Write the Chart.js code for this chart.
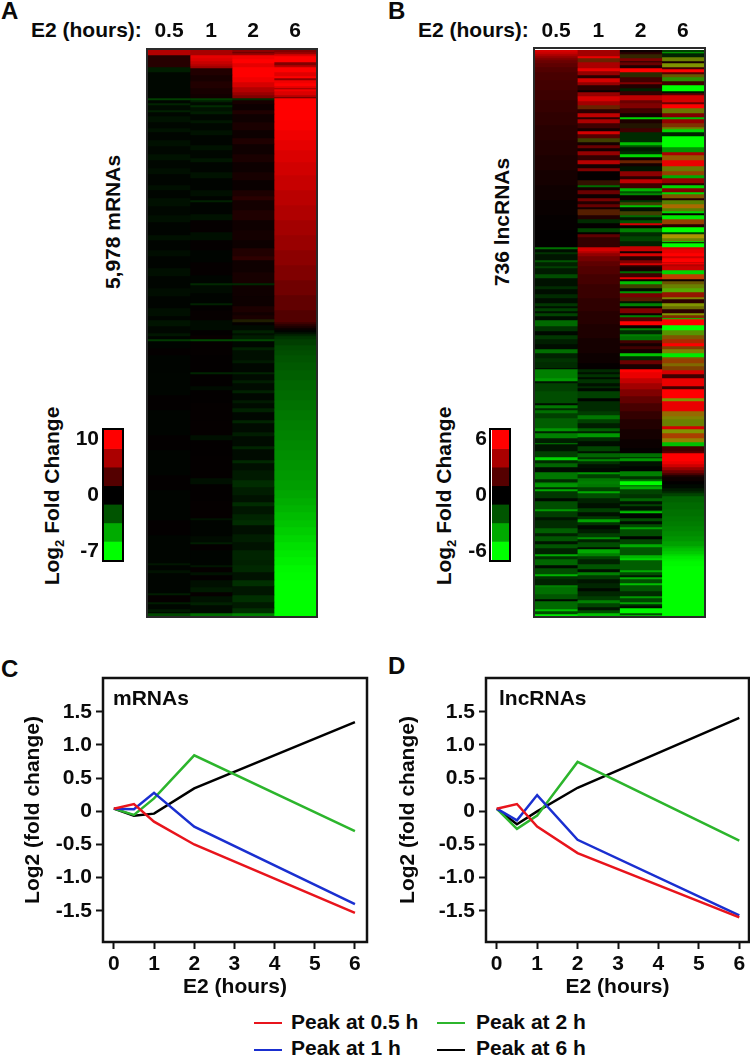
<!DOCTYPE html>
<html>
<head>
<meta charset="utf-8">
<script src="https://cdn.jsdelivr.net/npm/chart.js@4"></script>
<style>
html,body{margin:0;padding:0;background:#fff;width:750px;height:1056px;overflow:hidden}
body{position:relative;font-family:"Liberation Sans",Arial,sans-serif;font-weight:bold;color:#0a0a0a}
canvas{position:absolute;display:block}
#heatA,#heatB{filter:blur(0.45px)}
.t{position:absolute;white-space:nowrap;font-size:21px;line-height:24px}
.v{position:absolute;white-space:nowrap;font-size:21px;line-height:24px;transform:translate(-50%,-50%) rotate(-90deg)}
.p{position:absolute;font-size:24px;line-height:24px}
.f{position:absolute;box-sizing:border-box;border:2px solid #2a2a2a;pointer-events:none}
.k{position:absolute;height:2px;width:28px}
sub{font-size:13px;line-height:0}
</style>
</head>
<body>
<div class="p" style="left:1px;top:-1px">A</div>
<div class="p" style="left:388px;top:-1px">B</div>
<div class="p" style="left:1px;top:657px">C</div>
<div class="p" style="left:388px;top:654px">D</div>
<div class="t" style="left:31px;top:18px">E2 (hours):</div>
<div class="t" style="left:418px;top:18px">E2 (hours):</div>
<div class="v" style="left:113px;top:222px">5,978 mRNAs</div>
<div class="v" style="left:502px;top:222px">736 lncRNAs</div>
<div class="v" style="left:52px;top:496px">Log<sub>2</sub> Fold Change</div>
<div class="v" style="left:444px;top:496px">Log<sub>2</sub> Fold Change</div>

<canvas id="heatA" width="168" height="596" style="left:148px;top:20px;width:168px;height:596px"></canvas>
<canvas id="heatB" width="169" height="597" style="left:535px;top:20px;width:169px;height:597px"></canvas>
<div class="f" style="left:146px;top:48px;width:172px;height:570px"></div>
<div class="f" style="left:533px;top:47px;width:173px;height:571px"></div>
<canvas id="keyA" width="62" height="170" style="left:60px;top:410px;width:62px;height:170px"></canvas>
<canvas id="keyB" width="62" height="170" style="left:448px;top:410px;width:62px;height:170px"></canvas>
<div class="f" style="left:102px;top:428px;width:22px;height:134px;border-color:#000"></div>
<div class="f" style="left:489px;top:428px;width:22px;height:134px;border-color:#000"></div>

<canvas id="lineC" width="375" height="356" style="left:0;top:650px;width:375px;height:356px"></canvas>
<canvas id="lineD" width="375" height="356" style="left:375px;top:650px;width:375px;height:356px"></canvas>
<div class="t" style="left:113px;top:686px">mRNAs</div>
<div class="t" style="left:499px;top:686px">lncRNAs</div>

<div class="k" style="left:254px;top:1022px;background:#e8141c"></div>
<div class="t" style="left:291px;top:1010px">Peak at 0.5 h</div>
<div class="k" style="left:437px;top:1022px;background:#2cb52c"></div>
<div class="t" style="left:476px;top:1010px">Peak at 2 h</div>
<div class="k" style="left:254px;top:1049px;background:#1a2fd0"></div>
<div class="t" style="left:291px;top:1036px">Peak at 1 h</div>
<div class="k" style="left:437px;top:1049px;background:#000"></div>
<div class="t" style="left:476px;top:1036px">Peak at 6 h</div>

<script>
/* ---------- data: heat map columns as [first row of the run, log2 change, optional opposing change in a mixed bin] ---------- */
const heatLabels = ['0.5','1','2','6'];
const rowsA = 566, rowsB = 567;
const keyLabelsA = ['10','','','0','','','-7'];
const keyLabelsB = ['6','','','0','','','-6'];
const keyValuesA = [10,6.7,3.3,0,-2.3,-4.7,-7];
const keyValuesB = [6,4,2,0,-2,-4,-6];

const mrna05 = [[0,7],[5,1.5],[17,-.8],[22,-.2],[48,-1.7],[50,-.2],[53,-1],[55,-.3],[60,-.9],[62,-.2],[66,-.5],[72,-.2],[78,-.5],[82,-.15],[90,-.45],[96,-.2],[104,-.5],[110,-.2],[118,-.4],[124,-.15],[135,-.4],[140,-.15],[148,-.45],[156,-.2],[165,-.4],[172,-.1],[185,-.45],[190,-.1],[200,-.35],[206,-.1],[218,-.4],[226,-.15],[238,-.35],[246,-.1],[258,-.4],[266,-.15],[270,-.55],[276,-.2],[283,-.6],[286,-.15],[289,-1.6],[291,-.1],[298,.15],[305,-.1],[322,-.15],[345,.1],[360,-.12],[385,.1],[400,-.1],[425,.12],[440,-.1],[470,.1],[485,-.15],[513,-.6],[515,-.1],[520,-.5],[523,-.15],[543,-.8],[545,.2],[552,-.8],[554,-.2],[559,-.7],[562,-.2],[563,-2]];
const mrna1 = [[0,6.5],[5,9],[8,8.6],[11,7.8],[14,7],[16,6.2],[18,1.3],[25,.9],[31,1.3],[38,.9],[44,.7],[48,-1.7],[50,-.9],[52,-.3],[55,-1.2],[57,-.5],[61,-.8],[64,-.2],[70,-.6],[73,-.2],[80,-.5],[85,-.15],[95,-.5],[100,-.2],[108,-.6],[112,-.15],[122,-.5],[128,-.1],[140,-.4],[146,-.1],[150,-.9],[152,-.1],[164,-.5],[170,.2],[182,-.4],[190,.15],[200,-.1],[212,.2],[225,-.15],[233,-1.1],[235,-.3],[243,-.1],[253,-.9],[255,.1],[260,.25],[270,-.3],[280,.1],[285,.3],[289,-2],[291,.2],[305,.1],[322,-1],[324,.1],[336,-.3],[340,.1],[352,.2],[370,.2],[385,-.4],[390,.1],[405,.15],[428,-.4],[434,.1],[450,.2],[468,-.5],[470,-.1],[486,-.3],[492,-.8],[494,.15],[500,-.1],[515,-.6],[517,.2],[522,-.5],[525,.1],[530,-.4],[537,-.7],[542,.25],[546,-.5],[552,-.9],[555,-.3],[563,-3]];
const mrna2 = [[0,5.5],[2,4],[3,6],[5,9.5],[9,10],[13,9],[17,10],[27,9.5],[32,8.4],[37,7],[42,6],[45,5],[48,-1.2],[50,.9],[54,.5],[60,1.2],[64,.6],[72,1],[80,.5],[88,1.2],[94,.6],[104,1],[112,.5],[122,.9],[130,.4],[140,1.1],[146,1.6],[150,.8],[160,1.2],[170,.6],[180,.8],[190,.5],[198,1.3],[206,1.8],[210,.6],[222,.9],[233,-1.1],[235,.6],[246,.5],[256,1.1],[262,.7],[265,1],[269,1.2,.8],[272,.2],[275,-.3],[280,-.9],[283,-.4],[285,-.8],[289,-2],[291,-.2],[297,-.9],[300,-.4],[310,-.7],[313,-.2],[322,-1],[324,-.3],[330,-.8],[333,-.3],[340,-.9],[343,-.2],[350,-.7],[353,-.3],[358,-.9],[362,-.2],[370,-1],[373,-.3],[382,-.8],[386,-.3],[396,-1],[399,-.3],[410,-1.1],[413,-.4],[420,-.7],[430,-1.2],[437,-.8],[445,-.5],[452,-1.2],[456,-.6],[464,-1],[470,-1.2],[475,-.4],[484,-.8],[492,-.5],[500,-1],[510,-.9],[515,-1.1],[522,-.5],[530,-1.3],[536,-.6],[545,-1.3],[552,-.7],[558,-1.3],[563,-3.5]];
const mrna6 = [[0,5],[2,6],[4,8.5],[6,10],[12,5],[15,7],[17,10],[22,8.8],[26,10],[28,5.5],[30,9.4],[33,10],[36,8.8],[38,6],[39,9.5],[41,8.6],[45,7],[47,4],[48,10],[70,9.8],[80,9.4],[90,9],[100,8.6],[112,8.2],[125,7.8],[140,7.3],[155,6.9],[170,6.4],[185,6],[200,5.5],[215,5],[230,4.4],[245,3.8],[260,3.2],[272,2.4],[274,1.6],[276,1],[278,.4],[280,-.1],[282,-.5],[284,-1],[286,-1.4],[289,-1.7],[295,-2],[300,-2.15],[305,-2.3],[312,-2.45],[320,-2.6],[330,-2.8],[340,-2.95],[350,-3.1],[360,-3.3],[370,-3.45],[380,-3.6],[390,-3.75],[400,-3.9],[410,-4.05],[420,-4.2],[430,-4.35],[440,-4.55],[448,-4.75],[455,-4.95],[462,-5.15],[470,-5.4],[477,-5.65],[485,-5.9],[492,-6.15],[500,-6.4],[507,-6.6],[515,-6.8],[522,-6.9],[530,-7]];

const lnc05 = [[0,5],[2,4.6],[4,4],[6,3.4],[8,2.9],[10,2.5],[13,2.2],[17,1.9],[22,1.7],[30,1.55],[40,1.4],[50,1.25],[62,1.1],[75,.95],[90,.8],[105,.65],[120,.5],[135,.35],[150,.22],[165,.12],[180,.05],[197,-2.6],[199,-.3],[202,-1.2],[204,-.5],[210,-2],[212,-.8],[216,-1.5],[218,-.6],[224,-1.8],[228,-.4],[236,-1],[239,-.3],[244,-1],[248,-.3],[253,-1.3],[256,-.4],[258,-1.5],[261,-.4],[263,-1.6],[266,-.3],[270,-2.5],[276,-1.2],[281,-.2],[285,-1.3],[289,-.7],[294,-.3],[299,-2.6],[303,-.8],[308,-1.2],[312,-1],[318,-.2],[319,-3],[328,-3.6],[331,-.5],[333,-1.5],[341,-1.8],[353,-.3],[355,-2.8],[358,-1],[360,-2.6],[363,-1.5],[368,-2.2],[378,-3.5],[381,-.8],[383,-3],[388,-.7],[393,-3],[394,-.5],[401,-1.5],[407,-5],[410,-1],[413,-2.4],[417,-.3],[422,-2.8],[429,-1],[432,-2.6],[433,-3.5],[437,-1],[439,-4],[441,-1.3],[448,-.2],[451,-1.8],[459,-3.6],[461,-1.4],[467,-.5],[470,-1],[478,-2.2],[483,-.8],[486,-2],[491,-.5],[494,-2],[498,-.8],[504,-4],[506,-1.2],[509,-2.4],[515,-.3],[518,-1.8],[524,-4.2],[526,-1.2],[529,-.8],[535,-3],[537,-2.6],[544,-2],[549,-.2],[551,-2.5],[559,-4.5],[561,-1.8],[564,-5.5]];
const lnc1 = [[0,3.8],[6,5.5],[8,2.5,.8],[12,4],[18,5.5],[21,3.5],[25,1],[28,5],[32,3.5],[35,1],[40,.3],[42,3.5],[46,5],[51,3.8],[55,2.5,.8],[59,1],[63,4.5],[67,1],[69,4],[73,1.5],[78,.5],[81,5],[84,2],[88,1.5,1.5],[92,.5],[95,2.5],[98,.5],[101,3.5],[105,1.2],[110,4.3],[114,.5],[118,3],[121,.1],[130,1.2,.4],[135,-2.5],[137,.5],[140,2.5],[144,.3],[148,2.8],[151,.8],[154,2.4],[157,.5],[159,2,.7],[165,.8],[169,-1],[173,.1],[178,-1.6],[182,.1],[184,2.2],[187,1.2],[197,4.8],[198,5],[201,4.2],[203,3.4],[206,2.7],[211,2.2],[216,1.9],[224,1.6],[234,1.35],[248,1.1],[261,.9],[274,.7],[288,.5],[303,.3],[313,.12],[319,-1],[322,-.4],[324,-1.2],[327,-.3],[329,-1.2],[333,-.4],[336,-1],[338,-.2],[341,-1.5],[348,-.1],[351,-1],[361,-1.4],[365,-2.8],[369,-1.5],[373,-.7],[378,-2.2],[381,-.8],[383,-3.6],[387,-1],[391,-.3],[396,-1.6],[401,-.4],[403,-2.4],[407,-1.2],[409,-3.2],[411,-1.2],[414,-.4],[418,-.2],[422,-3.5],[424,-1.5],[428,-2.8],[431,-3],[434,-2.8],[437,-1.5],[441,-4],[443,-1.8],[448,-.8],[453,-.4],[458,-1.5],[462,-.4],[466,-1.3],[469,-3.8],[472,-1.2],[475,-.2],[479,-.7],[483,-1.5],[487,-3.4],[489,-.8],[492,-1.8],[497,-.4],[499,-4],[503,-3],[506,-1.6],[509,-.8],[514,-2],[519,-.4],[522,-3],[525,-1.4],[529,-.5],[533,-.9],[538,-.2],[541,-.9],[546,-1.4],[550,-3],[553,-1.6],[557,-.5],[560,-1.8],[563,-4.5]];
const lnc2 = [[0,.3],[2,1],[4,1.2,.9],[8,3],[11,1],[12,2.5],[15,.8],[18,6],[22,1,1],[27,1.5],[32,3],[34,.8],[38,-.8],[41,1.2],[45,4.5],[50,2.5],[53,3],[58,1.5],[63,.5],[67,-5],[69,.7],[73,.8,.5],[78,1.5],[82,-1],[92,-4.5],[95,-2],[97,-.6],[101,-1],[104,-5],[107,.3],[110,2.5,.8],[113,.5],[116,-.5],[121,3.3],[126,1],[129,4.5],[133,1.5],[138,-4.2],[141,-2],[143,-3.2],[145,.3],[150,-1.2],[152,1.5,1.5],[155,-4.5],[157,-.4],[161,1.5,1.5],[165,-2.5],[167,-.6],[170,-2],[173,5],[175,.2],[178,-3],[182,-1],[186,-1.6],[191,-.8],[196,4.6],[201,.5],[203,5],[206,1],[210,3],[213,5],[215,1],[217,.5],[221,-2.5],[223,1.5],[227,5.5],[229,.3],[231,-4.5],[234,1.5,1.5],[238,-.3],[241,-3.5],[243,2.8],[247,2,.6],[251,-.5],[253,-3],[256,.3],[258,3],[263,.3],[265,-3],[267,2],[271,6],[275,.3],[278,-3],[280,-1],[284,-3],[286,-2.6],[290,1.5],[293,.5],[296,1.5],[299,.4],[303,-4.6],[306,-1],[310,2.5],[314,.6],[319,6],[322,5.5],[328,4.6],[333,3.8],[339,3],[346,2.3],[353,1.7],[361,1.2],[369,.8],[379,.5],[389,.25],[398,.1],[403,-2.6],[407,-1],[408,-3.5],[411,-.4],[416,-.1],[421,-3],[426,-1.2],[429,-2.6],[431,-6],[435,-2],[436,-4],[439,-1.6],[444,-1.2],[448,-2.4],[451,-.5],[454,-1.6],[456,-.4],[460,-2],[461,-4.5],[463,-.1],[468,-1.8],[471,-.3],[474,-1.8],[477,-3.8],[479,-1.8],[486,-.1],[489,-1.6],[494,-4],[497,-2],[505,-4.3],[508,-5],[510,-2.2],[520,-4],[522,-1.8],[525,-.6],[527,-4],[529,-1.8],[533,-4.5],[535,-2],[541,-1],[546,-3.6],[548,-1.6],[552,-3.8],[554,-1],[556,-.4],[558,-5.8],[563,-2],[565,-5]];
const lnc6 = [[0,-1.5],[2,-4],[3,-.8],[7,2.5,3],[11,.5],[13,3,3.5],[17,1.5],[19,6],[22,2],[24,2.5,2],[27,1,3.3],[31,1.5],[35,-6],[41,-.5],[43,2],[45,5],[52,2.5],[54,6],[58,2.5,2.8],[63,3],[67,-4.5],[69,3.5],[73,3,1.2],[77,2.5,3],[79,-5],[82,-.8],[86,-6],[97,-3.5],[102,4],[105,3.5,2],[110,5.5],[116,2.5,2.8],[121,3.5,1.5],[125,-4],[128,3.5],[133,1],[135,-5],[138,3],[142,-5],[144,3,2],[148,.8],[150,2,3],[154,4,2.5],[158,2,3],[161,-5],[163,.1],[165,-5.5],[169,3.5,1.5],[174,1],[177,-6],[182,-1.5],[184,4,3.5],[188,2.5,3],[191,-5],[192,.5],[193,-6],[197,5],[199,5.5],[203,6],[206,4.8],[208,6],[212,4.5],[213,6],[214,4.3],[216,4.8],[220,-5],[224,4.5,1.5],[229,.3],[231,2.5,2],[234,2.5,3],[238,2,4],[242,3.5,.5],[247,3,3],[249,1],[253,3,3.5],[256,2.5,2.5],[259,1],[263,3,3.5],[265,3,1],[268,-5],[269,6],[275,-6],[280,2,3.5],[285,3,2],[289,4,1],[293,6],[296,3,1.5],[299,3,3],[303,-5.5],[307,3,2],[309,3.5,1.5],[313,3,2.5],[316,3,1.5],[320,5],[324,1.5],[328,5.5],[336,1.5],[339,6],[348,3,3.5],[351,5.5],[361,3.5,2.5],[366,3,3],[369,2.5,3],[376,5],[379,3,3.5],[383,4,1.5],[388,3.5,3],[392,-4.5],[396,1.5],[401,2],[403,6],[411,5.6],[414,4.8],[417,3.6],[420,2.6],[423,1.6],[425,.6],[427,.3],[431,.05],[434,-.2],[438,-.6],[441,-1],[443,-1.6],[446,-2.3],[452,-2.5],[459,-2.65],[466,-2.8],[471,-2.95],[476,-3.1],[481,-3.3],[486,-3.5],[491,-3.8],[496,-4.2],[498,-4.5],[501,-4.8],[504,-5.2],[506,-5.5],[509,-5.7],[511,-5.85],[516,-6]];

const lineHours = [0,0.5,1,2,6];
const mrnaPeak05 = [0.04,0.11,-0.155,-0.5,-1.53];
const mrnaPeak1  = [0.04,0.03,0.28,-0.23,-1.40];
const mrnaPeak2  = [0.04,-0.055,0.195,0.845,-0.30];
const mrnaPeak6  = [0.04,-0.065,-0.035,0.345,1.345];
const lncPeak05  = [0.04,0.11,-0.23,-0.63,-1.60];
const lncPeak1   = [0.04,-0.135,0.245,-0.43,-1.57];
const lncPeak2   = [0.04,-0.265,-0.065,0.745,-0.44];
const lncPeak6   = [0.04,-0.195,0,0.355,1.41];
const seriesNames = ['Peak at 0.5 h','Peak at 1 h','Peak at 2 h','Peak at 6 h'];
const seriesColors = ['#e8141c','#1a2fd0','#2cb52c','#000000'];
const yTickValues = [1.5,1,0.5,0,-0.5,-1,-1.5];
const xTickValues = [0,1,2,3,4,5,6];

/* ---------- drawing ---------- */
const FONT = '"Liberation Sans", Arial, sans-serif';
Chart.defaults.font.family = FONT;
Chart.defaults.font.weight = 'bold';
Chart.defaults.font.size = 21;
Chart.defaults.color = '#0a0a0a';
Chart.defaults.animation = false;
Chart.defaults.responsive = false;
Chart.defaults.plugins.legend.display = false;
Chart.defaults.plugins.tooltip.enabled = false;

function colourFor(maxUp, maxDown, v, mix) {
  const up = v > 0 ? v : 0;
  const down = mix !== undefined ? mix : (v < 0 ? -v : 0);
  const r = Math.min(255, Math.round(255 * up / maxUp));
  const g = Math.min(255, Math.round(255 * down / maxDown));
  return 'rgb(' + r + ',' + g + ',0)';
}
const blackPlot = {
  id: 'blackPlot',
  beforeDatasetsDraw(c) {
    const a = c.chartArea;
    c.ctx.save();
    c.ctx.fillStyle = '#000';
    c.ctx.fillRect(a.left, a.top, a.width, a.height);
    c.ctx.restore();
  }
};
const framePlot = {
  id: 'framePlot',
  afterDatasetsDraw(c) {
    const a = c.chartArea;
    c.ctx.save();
    c.ctx.strokeStyle = '#111';
    c.ctx.lineWidth = 2.5;
    c.ctx.strokeRect(a.left, a.top, a.width, a.height);
    c.ctx.restore();
  }
};

function heatmap(id, columns, rows, maxUp, maxDown, axisHeight) {
  const datasets = [];
  columns.forEach((col, c) => {
    col.forEach((seg, i) => {
      const end = i + 1 < col.length ? col[i + 1][0] : rows;
      datasets.push({
        data: [{ x: heatLabels[c], y: [seg[0], end] }],
        backgroundColor: colourFor(maxUp, maxDown, seg[1], seg[2]),
        grouped: false, barPercentage: 1, categoryPercentage: 1, borderWidth: 0
      });
    });
  });
  new Chart(document.getElementById(id), {
    type: 'bar',
    data: { labels: heatLabels, datasets },
    plugins: [blackPlot],
    options: {
      layout: { padding: 0 },
      scales: {
        x: {
          position: 'top', offset: true,
          border: { display: false }, grid: { display: false, drawTicks: false },
          ticks: { padding: 6, maxRotation: 0, autoSkip: false, color: '#0a0a0a' },
          afterFit(s) { s.height = axisHeight; }
        },
        y: { display: false, reverse: true, min: 0, max: rows }
      }
    }
  });
}
heatmap('heatA', [mrna05, mrna1, mrna2, mrna6], rowsA, 10, 7, 30);
heatmap('heatB', [lnc05, lnc1, lnc2, lnc6], rowsB, 6, 6, 30);

function colourKey(id, values, labels, maxUp, maxDown) {
  new Chart(document.getElementById(id), {
    type: 'bar',
    data: {
      labels: ['key'],
      datasets: values.map((v, i) => ({
        data: [{ x: 'key', y: [i, i + 1] }],
        backgroundColor: colourFor(maxUp, maxDown, v),
        grouped: false, barPercentage: 1, categoryPercentage: 1, borderWidth: 0
      }))
    },
    options: {
      layout: { padding: { top: 20, bottom: 20 } },
      scales: {
        x: { display: false },
        y: {
          reverse: true, min: 0, max: values.length,
          border: { display: false }, grid: { display: false, drawTicks: false },
          ticks: { padding: 5, autoSkip: false, callback: v => labels[Math.floor(v)] },
          afterBuildTicks(s) { s.ticks = labels.map((l, i) => ({ value: i + 0.5 })).filter((t, i) => labels[i] !== ''); },
          afterFit(s) { s.width = 44; }
        }
      }
    }
  });
}
colourKey('keyA', keyValuesA, keyLabelsA, 10, 7);
colourKey('keyB', keyValuesB, keyLabelsB, 6, 6);

function lineChart(id, seriesList, yAxisWidth, rightPad, xMin, xMax) {
  new Chart(document.getElementById(id), {
    type: 'line',
    data: {
      datasets: seriesList.map((s, i) => ({
        label: seriesNames[i],
        data: s.map((v, j) => ({ x: lineHours[j], y: v })),
        borderColor: seriesColors[i], borderWidth: 2.5,
        pointRadius: 0, tension: 0, fill: false
      }))
    },
    plugins: [framePlot],
    options: {
      layout: { padding: { top: 28, right: rightPad } },
      scales: {
        x: {
          type: 'linear', min: xMin, max: xMax,
          border: { display: false },
          grid: { drawOnChartArea: false, tickLength: 7, tickWidth: 2, tickColor: '#111' },
          ticks: { padding: 3, maxRotation: 0, autoSkip: false, callback: v => String(v) },
          afterBuildTicks(s) { s.ticks = xTickValues.map(v => ({ value: v })); },
          title: { display: true, text: 'E2 (hours)', padding: { top: 0, bottom: 6 }, color: '#0a0a0a' },
          afterFit(s) { s.height = 64; }
        },
        y: {
          min: -1.97, max: 2.01,
          border: { display: false },
          grid: { drawOnChartArea: false, tickLength: 7, tickWidth: 2, tickColor: '#111' },
          ticks: { padding: 4, autoSkip: false, callback: v => v === 0 ? '0' : v.toFixed(1) },
          afterBuildTicks(s) { s.ticks = yTickValues.map(v => ({ value: v })); },
          title: { display: true, text: 'Log2 (fold change)', padding: { top: 21, bottom: 0 }, color: '#0a0a0a' },
          afterFit(s) { s.width = yAxisWidth; }
        }
      }
    }
  });
}
lineChart('lineC', [mrnaPeak05, mrnaPeak1, mrnaPeak2, mrnaPeak6], 103, 8, -0.27, 6.30);
lineChart('lineD', [lncPeak05, lncPeak1, lncPeak2, lncPeak6], 111, 1, -0.265, 6.24);
</script>
</body>
</html>
